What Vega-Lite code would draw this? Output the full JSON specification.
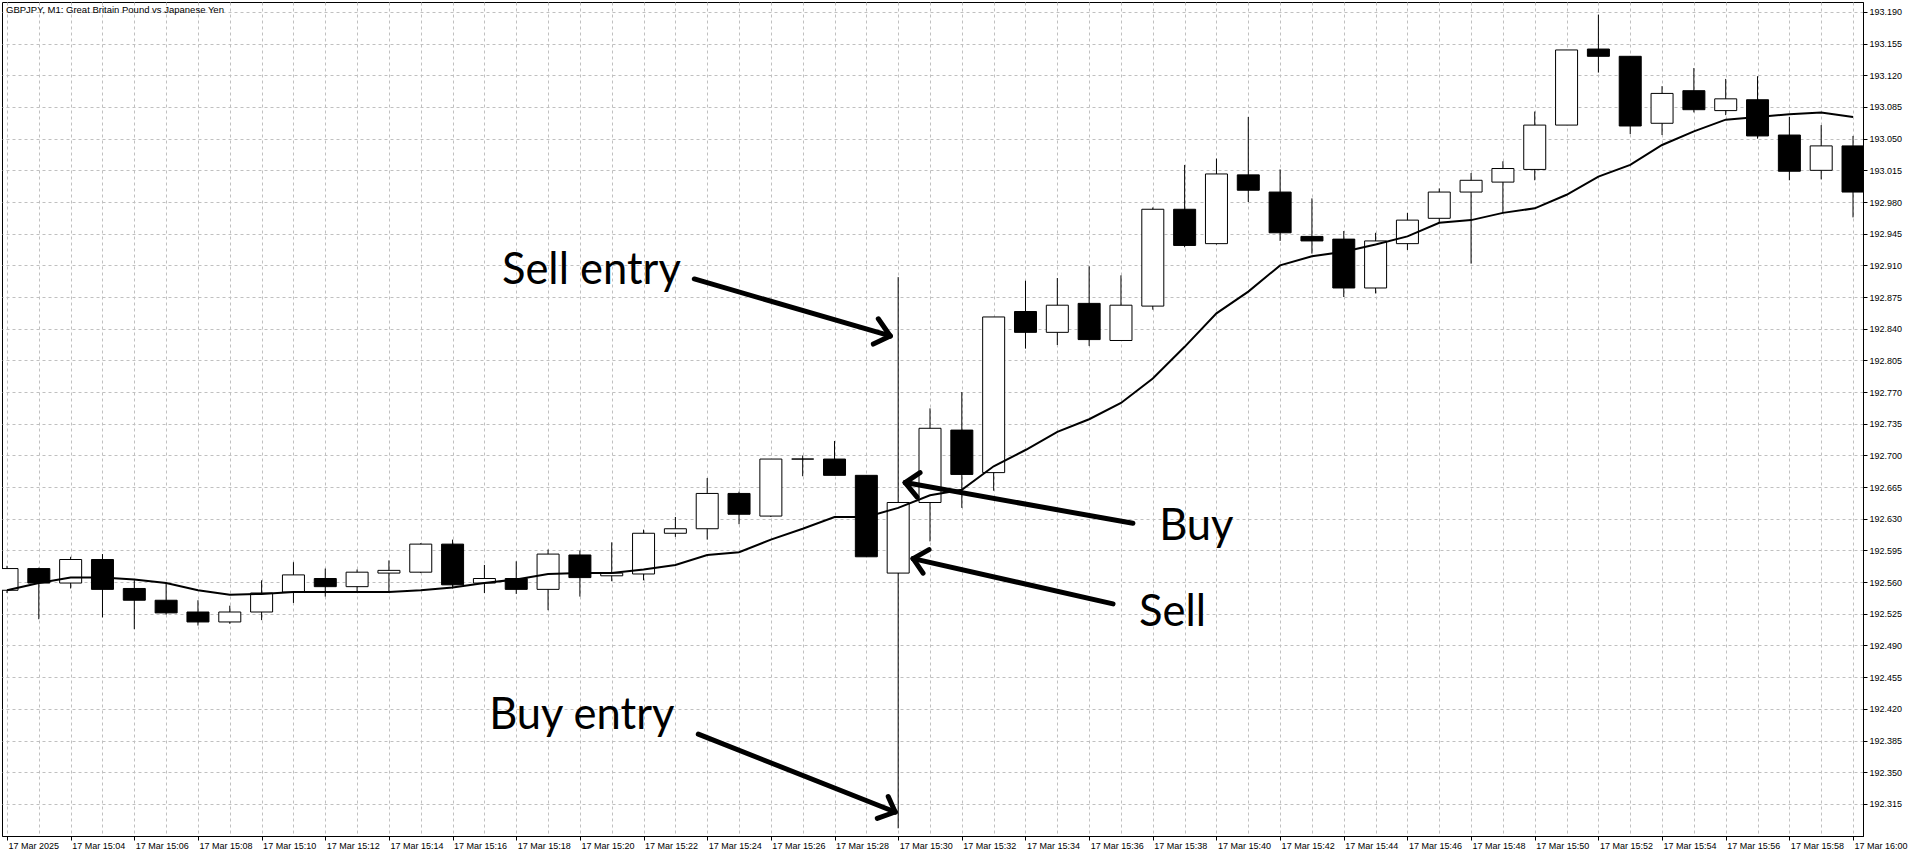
{
  "$schema": "https://vega.github.io/schema/vega-lite/v6.json",
  "width": 1861,
  "height": 834,
  "autosize": "none",
  "padding": {"left": 2, "top": 2, "right": 53, "bottom": 21},
  "background": "white",
  "title": {
    "text": "GBPJPY, M1:  Great Britain Pound vs Japanese Yen",
    "anchor": "start",
    "frame": "group",
    "offset": -12,
    "dx": 4,
    "font": "Liberation Sans",
    "fontSize": 9.5,
    "fontWeight": "normal",
    "color": "black"
  },
  "config": {
    "view": {"stroke": "black", "strokeWidth": 1},
    "axis": {
      "labelFont": "Liberation Sans",
      "labelFontSize": 9,
      "labelColor": "black",
      "domainColor": "black",
      "tickColor": "black",
      "gridColor": "#c0c0c0",
      "gridDash": [3, 3],
      "gridWidth": 1,
      "labelOverlap": false,
      "labelSeparation": 0
    }
  },
  "datasets": {
    "candles": [
      {"m": 2, "o": 192.551, "h": 192.578, "l": 192.548, "c": 192.575},
      {"m": 3, "o": 192.575, "h": 192.576, "l": 192.519, "c": 192.559},
      {"m": 4, "o": 192.559, "h": 192.588, "l": 192.553, "c": 192.585},
      {"m": 5, "o": 192.585, "h": 192.591, "l": 192.521, "c": 192.552},
      {"m": 6, "o": 192.553, "h": 192.562, "l": 192.508, "c": 192.540},
      {"m": 7, "o": 192.540, "h": 192.559, "l": 192.524, "c": 192.526},
      {"m": 8, "o": 192.527, "h": 192.540, "l": 192.512, "c": 192.516},
      {"m": 9, "o": 192.516, "h": 192.534, "l": 192.514, "c": 192.527},
      {"m": 10, "o": 192.527, "h": 192.562, "l": 192.518, "c": 192.548},
      {"m": 11, "o": 192.549, "h": 192.582, "l": 192.537, "c": 192.568},
      {"m": 12, "o": 192.564, "h": 192.575, "l": 192.544, "c": 192.555},
      {"m": 13, "o": 192.555, "h": 192.574, "l": 192.550, "c": 192.571},
      {"m": 14, "o": 192.570, "h": 192.584, "l": 192.548, "c": 192.573},
      {"m": 15, "o": 192.571, "h": 192.603, "l": 192.570, "c": 192.602},
      {"m": 16, "o": 192.602, "h": 192.607, "l": 192.553, "c": 192.557},
      {"m": 17, "o": 192.559, "h": 192.579, "l": 192.548, "c": 192.564},
      {"m": 18, "o": 192.564, "h": 192.583, "l": 192.547, "c": 192.552},
      {"m": 19, "o": 192.552, "h": 192.596, "l": 192.529, "c": 192.591},
      {"m": 20, "o": 192.590, "h": 192.595, "l": 192.544, "c": 192.565},
      {"m": 21, "o": 192.567, "h": 192.604, "l": 192.561, "c": 192.570},
      {"m": 22, "o": 192.569, "h": 192.618, "l": 192.562, "c": 192.614},
      {"m": 23, "o": 192.614, "h": 192.632, "l": 192.610, "c": 192.619},
      {"m": 24, "o": 192.619, "h": 192.675, "l": 192.607, "c": 192.658},
      {"m": 25, "o": 192.658, "h": 192.660, "l": 192.624, "c": 192.635},
      {"m": 26, "o": 192.633, "h": 192.696, "l": 192.632, "c": 192.696},
      {"m": 27, "o": 192.696, "h": 192.700, "l": 192.677, "c": 192.696},
      {"m": 28, "o": 192.696, "h": 192.716, "l": 192.678, "c": 192.678},
      {"m": 29, "o": 192.678, "h": 192.678, "l": 192.588, "c": 192.588},
      {"m": 30, "o": 192.570, "h": 192.897, "l": 192.288, "c": 192.648},
      {"m": 31, "o": 192.648, "h": 192.752, "l": 192.605, "c": 192.730},
      {"m": 32, "o": 192.728, "h": 192.770, "l": 192.642, "c": 192.679},
      {"m": 33, "o": 192.681, "h": 192.853, "l": 192.661, "c": 192.853},
      {"m": 34, "o": 192.859, "h": 192.893, "l": 192.818, "c": 192.836},
      {"m": 35, "o": 192.836, "h": 192.896, "l": 192.822, "c": 192.866},
      {"m": 36, "o": 192.868, "h": 192.909, "l": 192.821, "c": 192.828},
      {"m": 37, "o": 192.827, "h": 192.899, "l": 192.827, "c": 192.866},
      {"m": 38, "o": 192.865, "h": 192.974, "l": 192.861, "c": 192.972},
      {"m": 39, "o": 192.972, "h": 193.021, "l": 192.930, "c": 192.932},
      {"m": 40, "o": 192.934, "h": 193.028, "l": 192.933, "c": 193.011},
      {"m": 41, "o": 193.010, "h": 193.074, "l": 192.980, "c": 192.993},
      {"m": 42, "o": 192.991, "h": 193.016, "l": 192.937, "c": 192.946},
      {"m": 43, "o": 192.942, "h": 192.984, "l": 192.923, "c": 192.937},
      {"m": 44, "o": 192.939, "h": 192.948, "l": 192.875, "c": 192.885},
      {"m": 45, "o": 192.885, "h": 192.946, "l": 192.879, "c": 192.937},
      {"m": 46, "o": 192.934, "h": 192.968, "l": 192.927, "c": 192.960},
      {"m": 47, "o": 192.962, "h": 192.995, "l": 192.957, "c": 192.991},
      {"m": 48, "o": 192.991, "h": 193.012, "l": 192.912, "c": 193.004},
      {"m": 49, "o": 193.002, "h": 193.025, "l": 192.968, "c": 193.017},
      {"m": 50, "o": 193.016, "h": 193.080, "l": 193.004, "c": 193.065},
      {"m": 51, "o": 193.065, "h": 193.148, "l": 193.065, "c": 193.148},
      {"m": 52, "o": 193.149, "h": 193.187, "l": 193.123, "c": 193.141},
      {"m": 53, "o": 193.141, "h": 193.141, "l": 193.055, "c": 193.064},
      {"m": 54, "o": 193.067, "h": 193.108, "l": 193.054, "c": 193.100},
      {"m": 55, "o": 193.103, "h": 193.128, "l": 193.079, "c": 193.082},
      {"m": 56, "o": 193.081, "h": 193.116, "l": 193.076, "c": 193.094},
      {"m": 57, "o": 193.093, "h": 193.119, "l": 193.050, "c": 193.053},
      {"m": 58, "o": 193.054, "h": 193.074, "l": 193.004, "c": 193.014},
      {"m": 59, "o": 193.015, "h": 193.065, "l": 193.005, "c": 193.042},
      {"m": 60, "o": 193.042, "h": 193.053, "l": 192.963, "c": 192.991}
    ],
    "ma": [
      {"m": 2, "v": 192.551}, {"m": 3, "v": 192.559}, {"m": 4, "v": 192.565}, {"m": 5, "v": 192.565},
      {"m": 6, "v": 192.563}, {"m": 7, "v": 192.559}, {"m": 8, "v": 192.551}, {"m": 9, "v": 192.546},
      {"m": 10, "v": 192.547}, {"m": 11, "v": 192.549}, {"m": 12, "v": 192.549}, {"m": 13, "v": 192.549},
      {"m": 14, "v": 192.549}, {"m": 15, "v": 192.551}, {"m": 16, "v": 192.554}, {"m": 17, "v": 192.559},
      {"m": 18, "v": 192.563}, {"m": 19, "v": 192.569}, {"m": 20, "v": 192.570}, {"m": 21, "v": 192.570},
      {"m": 22, "v": 192.574}, {"m": 23, "v": 192.579}, {"m": 24, "v": 192.590}, {"m": 25, "v": 192.593},
      {"m": 26, "v": 192.607}, {"m": 27, "v": 192.619}, {"m": 28, "v": 192.632}, {"m": 29, "v": 192.632},
      {"m": 30, "v": 192.642}, {"m": 31, "v": 192.656}, {"m": 32, "v": 192.662}, {"m": 33, "v": 192.688},
      {"m": 34, "v": 192.706}, {"m": 35, "v": 192.726}, {"m": 36, "v": 192.740}, {"m": 37, "v": 192.758},
      {"m": 38, "v": 192.785}, {"m": 39, "v": 192.820}, {"m": 40, "v": 192.857}, {"m": 41, "v": 192.881},
      {"m": 42, "v": 192.910}, {"m": 43, "v": 192.920}, {"m": 44, "v": 192.925}, {"m": 45, "v": 192.933},
      {"m": 46, "v": 192.942}, {"m": 47, "v": 192.957}, {"m": 48, "v": 192.960}, {"m": 49, "v": 192.968},
      {"m": 50, "v": 192.973}, {"m": 51, "v": 192.988}, {"m": 52, "v": 193.008}, {"m": 53, "v": 193.021},
      {"m": 54, "v": 193.043}, {"m": 55, "v": 193.058}, {"m": 56, "v": 193.071}, {"m": 57, "v": 193.074},
      {"m": 58, "v": 193.077}, {"m": 59, "v": 193.079}, {"m": 60, "v": 193.074}
    ],
    "notes": [
      {"t": "Sell entry", "m": 17.55, "p": 192.889},
      {"t": "Buy entry", "m": 17.15, "p": 192.398},
      {"t": "Buy", "m": 38.2, "p": 192.607},
      {"t": "Sell", "m": 37.57, "p": 192.512}
    ],
    "arrows": [
      {"x1": 23.594, "y1": 192.895, "x2": 29.75, "y2": 192.832},
      {"x1": 29.75, "y1": 192.832, "x2": 29.375, "y2": 192.851},
      {"x1": 29.75, "y1": 192.832, "x2": 29.219, "y2": 192.823},
      {"x1": 23.719, "y1": 192.392, "x2": 29.906, "y2": 192.306},
      {"x1": 29.906, "y1": 192.306, "x2": 29.6875, "y2": 192.323},
      {"x1": 29.906, "y1": 192.306, "x2": 29.344, "y2": 192.299},
      {"x1": 37.375, "y1": 192.625, "x2": 30.219, "y2": 192.670},
      {"x1": 30.219, "y1": 192.670, "x2": 30.6875, "y2": 192.681},
      {"x1": 30.219, "y1": 192.670, "x2": 30.594, "y2": 192.654},
      {"x1": 36.75, "y1": 192.536, "x2": 30.469, "y2": 192.586},
      {"x1": 30.469, "y1": 192.586, "x2": 30.969, "y2": 192.596},
      {"x1": 30.469, "y1": 192.586, "x2": 30.781, "y2": 192.570}
    ]
  },
  "layer": [
    {
      "data": {"name": "candles"},
      "mark": {"type": "rule", "color": "black", "strokeWidth": 1, "clip": true},
      "encoding": {
        "x": {
          "field": "m", "type": "quantitative", "title": null,
          "scale": {"domain": [2, 60.15625], "nice": false, "zero": false},
          "axis": {
            "values": [2,3,4,5,6,7,8,9,10,11,12,13,14,15,16,17,18,19,20,21,22,23,24,25,26,27,28,29,30,31,32,33,34,35,36,37,38,39,40,41,42,43,44,45,46,47,48,49,50,51,52,53,54,55,56,57,58,59,60],
            "tickCount": 200,
            "labelExpr": "datum.value % 2 == 1 ? '' : (datum.value == 2 ? '17 Mar 2025' : '17 Mar ' + (15 + floor(datum.value / 60)) + ':' + (datum.value % 60 < 10 ? '0' : '') + (datum.value % 60))",
            "tickOpacity": {"condition": {"test": "datum.value % 2 == 1", "value": 0}, "value": 1},
            "grid": true,
            "tickSize": 4,
            "labelAlign": "left",
            "labelPadding": 1,
            "labelOffset": 1,
            "labelFlush": false,
            "labelOverlap": false,
            "labelBound": false
          }
        },
        "y": {
          "field": "l", "type": "quantitative", "title": null,
          "scale": {"domain": [192.2795, 193.201], "nice": false, "zero": false},
          "axis": {
            "orient": "right",
            "values": [192.315,192.35,192.385,192.42,192.455,192.49,192.525,192.56,192.595,192.63,192.665,192.7,192.735,192.77,192.805,192.84,192.875,192.91,192.945,192.98,193.015,193.05,193.085,193.12,193.155,193.19],
            "tickCount": 200,
            "format": ".3f",
            "grid": true,
            "tickSize": 4,
            "labelPadding": 2,
            "labelFlush": false,
            "labelOverlap": false,
            "labelBound": false
          }
        },
        "y2": {"field": "h"}
      }
    },
    {
      "data": {"name": "candles"},
      "mark": {"type": "bar", "width": 22, "stroke": "black", "strokeWidth": 1, "clip": true},
      "encoding": {
        "x": {"field": "m", "type": "quantitative", "title": null},
        "y": {"field": "o", "type": "quantitative", "title": null},
        "y2": {"field": "c"},
        "fill": {"condition": {"test": "datum.c >= datum.o", "value": "white"}, "value": "black"}
      }
    },
    {
      "data": {"name": "ma"},
      "mark": {"type": "line", "color": "black", "strokeWidth": 2, "clip": true},
      "encoding": {
        "x": {"field": "m", "type": "quantitative", "title": null},
        "y": {"field": "v", "type": "quantitative", "title": null}
      }
    },
    {
      "data": {"name": "arrows"},
      "mark": {"type": "rule", "color": "black", "strokeWidth": 5, "strokeCap": "round"},
      "encoding": {
        "x": {"field": "x1", "type": "quantitative", "title": null},
        "y": {"field": "y1", "type": "quantitative", "title": null},
        "x2": {"field": "x2"},
        "y2": {"field": "y2"}
      }
    },
    {
      "data": {"name": "notes"},
      "mark": {"type": "text", "font": "Lato", "fontSize": 43.5, "align": "left", "baseline": "alphabetic", "color": "black"},
      "encoding": {
        "x": {"field": "m", "type": "quantitative", "title": null},
        "y": {"field": "p", "type": "quantitative", "title": null},
        "text": {"field": "t", "type": "nominal"}
      }
    }
  ]
}
